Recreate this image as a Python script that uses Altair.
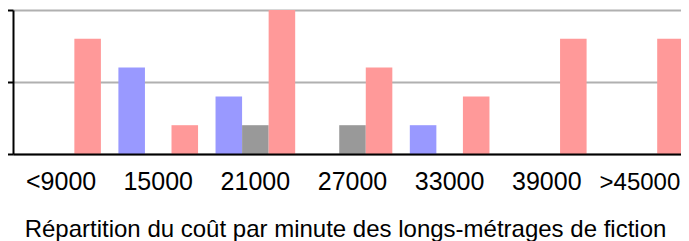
import altair as alt
import pandas as pd

categories = ["<9000", "15000", "21000", "27000", "33000", "39000", ">45000"]
series = ["bleu", "gris", "rose"]
blue_values = [0, 3, 2, 0, 1, 0, 0]
gray_values = [0, 0, 1, 1, 0, 0, 0]
pink_values = [4, 1, 5, 3, 2, 4, 4]
colors = ["#9999ff", "#999999", "#ff9999"]
title_text = "Répartition du coût par minute des longs-métrages de fiction"

rows = []
for s, vals in zip(series, [blue_values, gray_values, pink_values]):
    for c, v in zip(categories, vals):
        rows.append({"cat": c, "serie": s, "n": v})
df = pd.DataFrame(rows)

FONT = "Liberation Sans, Helvetica, Arial, sans-serif"
last_test = "datum.value == '>45000'"

chart = alt.Chart(df).mark_bar().encode(
    x=alt.X("cat:N", sort=categories,
            scale=alt.Scale(paddingInner=0.18, paddingOuter=0.085, range=[0, 679]),
            axis=alt.Axis(title=title_text, labelAngle=0, ticks=False, tickSize=0,
                          domainColor="black", domainWidth=2,
                          labelFont=FONT,
                          labelFontSize={"condition": {"test": last_test, "value": 24}, "value": 25},
                          labelOffset={"condition": {"test": last_test, "value": -4}, "value": 0},
                          labelColor="black",
                          labelBaseline="alphabetic", labelPadding=35,
                          titleFont=FONT, titleFontSize=24, titleFontWeight="normal",
                          titleColor="black", titleBaseline="alphabetic",
                          titleX=332, titleY=82, titleAnchor="middle",
                          zindex=1)),
    xOffset=alt.XOffset("serie:N", scale=alt.Scale(domain=series, paddingInner=0, paddingOuter=0)),
    y=alt.Y("n:Q", scale=alt.Scale(domain=[0, 5], nice=False),
            axis=alt.Axis(title=None, values=[0, 2.5, 5], labels=False,
                          tickSize=6, tickWidth=2, tickColor="black",
                          domainColor="black", domainWidth=2,
                          grid=True, gridColor="#b0b0b0", gridWidth=2)),
    color=alt.Color("serie:N", scale=alt.Scale(domain=series, range=colors), legend=None),
).properties(
    width=668, height=144,
    autosize=alt.AutoSizeParams(type="none"),
    padding={"left": 5, "top": 2, "right": 0, "bottom": 87},
).configure_view(stroke=None)

chart.save("out.html", embed_options={"renderer": "svg", "actions": False})
